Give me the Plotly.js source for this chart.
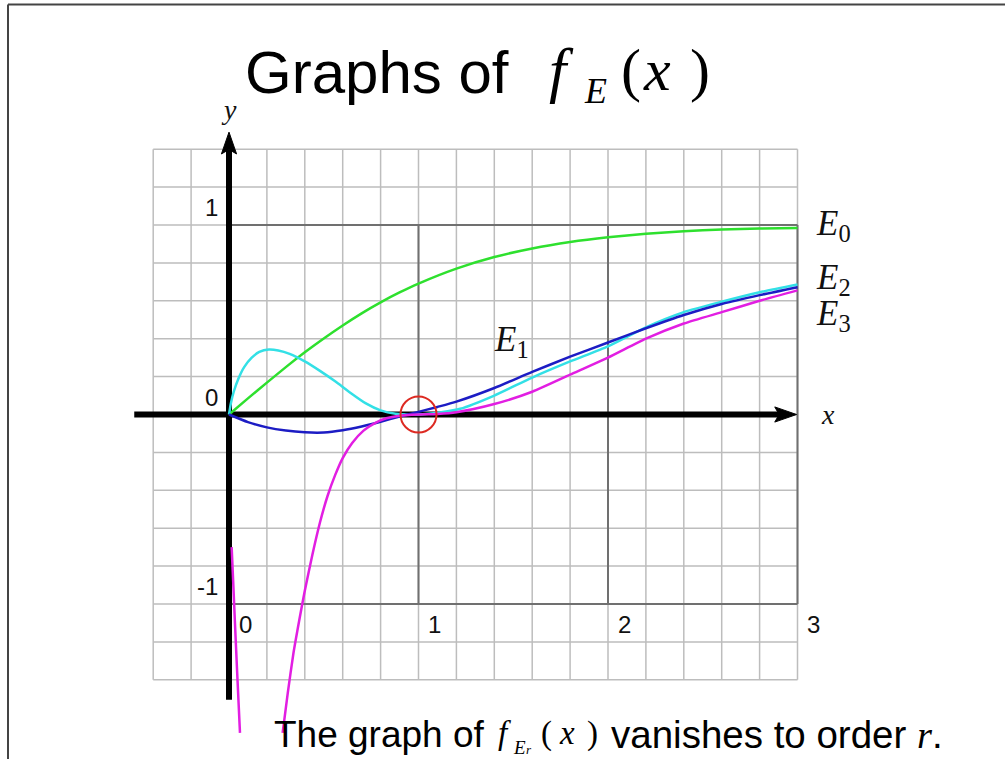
<!DOCTYPE html>
<html>
<head>
<meta charset="utf-8">
<script src="https://cdn.plot.ly/plotly-3.0.1.min.js"></script>
<style>
  html, body { margin: 0; padding: 0; background: #ffffff; }
  #chart { width: 1005px; height: 759px; }
</style>
</head>
<body>
<div id="chart"></div>
<script>
// ---- curve samples ----
const xE0 = [0, 0.1, 0.2, 0.3, 0.4, 0.5, 0.6, 0.7, 0.8, 0.9, 1.0, 1.2, 1.4, 1.6, 1.8, 2.0, 2.2, 2.4, 2.6, 2.8, 3.0];
const yE0 = [0, 0.085, 0.168, 0.250, 0.328, 0.401, 0.470, 0.534, 0.592, 0.644, 0.691, 0.770, 0.831, 0.876, 0.910, 0.935, 0.954, 0.967, 0.976, 0.981, 0.984];

const xE1 = [0, 0.1, 0.2, 0.3, 0.4, 0.5, 0.6, 0.7, 0.8, 0.9, 1.0, 1.1, 1.2, 1.4, 1.6, 1.8, 2.0, 2.2, 2.4, 2.6, 2.8, 3.0];
const yE1 = [0, -0.040, -0.068, -0.085, -0.094, -0.095, -0.083, -0.063, -0.038, -0.011, 0.014, 0.040, 0.068, 0.140, 0.225, 0.305, 0.380, 0.455, 0.525, 0.583, 0.630, 0.672];

const xE2 = [0, 0.01, 0.025, 0.05, 0.08, 0.12, 0.16, 0.21, 0.26, 0.32, 0.4, 0.48, 0.56, 0.64, 0.72, 0.8, 0.88, 0.96, 1.04, 1.12, 1.22, 1.4, 1.6, 1.8, 2.0, 2.2, 2.4, 2.6, 2.8, 3.0];
const yE2 = [0, 0.060, 0.120, 0.190, 0.250, 0.300, 0.330, 0.343, 0.338, 0.320, 0.280, 0.230, 0.175, 0.115, 0.060, 0.022, 0.004, 0.000, 0.003, 0.012, 0.030, 0.100, 0.195, 0.280, 0.360, 0.460, 0.540, 0.595, 0.645, 0.686];

// E3 has a pole at the origin: a thin left branch and the main branch
const xE3a = [0.014, 0.022, 0.031, 0.043, 0.058];
const yE3a = [-0.70, -0.88, -1.09, -1.36, -1.68];
const xE3 = [0.283, 0.31, 0.34, 0.37, 0.40, 0.44, 0.48, 0.52, 0.56, 0.60, 0.65, 0.71, 0.77, 0.83, 0.9, 1.0, 1.1, 1.2, 1.4, 1.6, 1.8, 2.0, 2.2, 2.4, 2.6, 2.8, 3.0];
const yE3 = [-1.68, -1.47, -1.26, -1.09, -0.93, -0.74, -0.57, -0.43, -0.32, -0.23, -0.15, -0.085, -0.045, -0.020, -0.006, 0.000, 0.003, 0.012, 0.055, 0.120, 0.210, 0.300, 0.400, 0.480, 0.540, 0.600, 0.655];

// ---- tick labels ----
const yTickVals = [1, 0, -1];
const yTickText = ['1', '0', '-1'];
const xTickVals = [0, 1, 2, 3];
const xTickText = ['0', '1', '2', '3'];

// ---- curve names ----
const curveNames = ['E0', 'E1', 'E2', 'E3'];
const curveColors = ['#2ee02e', '#1c1cc4', '#33e0e6', '#e21ee2'];

// ---- grid extents ----
const gridX = [-0.4, 3.0];
const gridY = [-1.4, 1.4];
const boxX = [0, 3];
const boxY = [-1, 1];
const step = 0.2;

const shapes = [];
const minorColor = '#bdbdbd';
const majorColor = '#707070';

// minor grid
for (let i = 0; ; i++) {
  const v = +(gridX[0] + i * step).toFixed(4);
  if (v > gridX[1] + 1e-9) break;
  shapes.push({type: 'line', layer: 'below', xref: 'x', yref: 'y', x0: v, x1: v, y0: gridY[0], y1: gridY[1], line: {color: minorColor, width: 1.5}});
}
for (let i = 0; ; i++) {
  const v = +(gridY[0] + i * step).toFixed(4);
  if (v > gridY[1] + 1e-9) break;
  shapes.push({type: 'line', layer: 'below', xref: 'x', yref: 'y', x0: gridX[0], x1: gridX[1], y0: v, y1: v, line: {color: minorColor, width: 1.5}});
}
// unit box lines
[boxY[0], boxY[1]].forEach(v => shapes.push({type: 'line', layer: 'below', xref: 'x', yref: 'y', x0: boxX[0], x1: boxX[1], y0: v, y1: v, line: {color: majorColor, width: 2}}));
[1, 2, 3].forEach(v => shapes.push({type: 'line', layer: 'below', xref: 'x', yref: 'y', x0: v, x1: v, y0: boxY[0], y1: boxY[1], line: {color: majorColor, width: 2}}));

// axes with arrowheads
const headLen = 0.115, headHalf = 0.04;
const xAxisTip = 2.995, yAxisTip = 1.49;
shapes.push({type: 'line', layer: 'below', xref: 'x', yref: 'y', x0: -0.5, x1: xAxisTip - headLen * 0.8, y0: 0, y1: 0, line: {color: '#000', width: 6}});
shapes.push({type: 'line', layer: 'below', xref: 'x', yref: 'y', x0: 0, x1: 0, y0: -1.505, y1: yAxisTip - headLen * 0.8, line: {color: '#000', width: 6}});
shapes.push({type: 'path', layer: 'below', xref: 'x', yref: 'y',
  path: `M ${xAxisTip},0 L ${xAxisTip - headLen},${headHalf} L ${xAxisTip - headLen * 0.8},0 L ${xAxisTip - headLen},${-headHalf} Z`,
  fillcolor: '#000', line: {color: '#000', width: 1}});
shapes.push({type: 'path', layer: 'below', xref: 'x', yref: 'y',
  path: `M 0,${yAxisTip} L ${headHalf},${yAxisTip - headLen} L 0,${yAxisTip - headLen * 0.8} L ${-headHalf},${yAxisTip - headLen} Z`,
  fillcolor: '#000', line: {color: '#000', width: 1}});

// red marker circle around (1, 0)
const rc = 0.095;
shapes.push({type: 'circle', layer: 'above', xref: 'x', yref: 'y', x0: 1 - rc, x1: 1 + rc, y0: -rc, y1: rc, line: {color: '#dd2a22', width: 2}});

// slide frame
shapes.push({type: 'line', xref: 'paper', yref: 'paper', x0: 8 / 1005, x1: 1, y0: 1 - 4.5 / 759, y1: 1 - 4.5 / 759, line: {color: '#444', width: 2}});
shapes.push({type: 'line', xref: 'paper', yref: 'paper', x0: 8 / 1005, x1: 8 / 1005, y0: 0, y1: 1 - 4.5 / 759, line: {color: '#444', width: 2}});

// ---- traces ----
const lw = 2.5;
const mk = (x, y, name, color) => ({type: 'scatter', mode: 'lines', x: x, y: y, name: name,
  hoverinfo: 'skip', showlegend: false, line: {color: color, width: lw, shape: 'spline', smoothing: 0.6}});
const traces = [
  mk(xE0, yE0, curveNames[0], curveColors[0]),
  mk(xE2, yE2, curveNames[2], curveColors[2]),
  mk(xE1, yE1, curveNames[1], curveColors[1]),
  mk(xE3, yE3, curveNames[3], curveColors[3]),
  mk(xE3a, yE3a, curveNames[3], curveColors[3])
];

// ---- annotations ----
const sans = 'Liberation Sans, Arial, sans-serif';
const serif = 'Liberation Serif, Times New Roman, serif';
const ann = [];
const px = v => v / 1005, py = v => 1 - v / 759;
const txt = (x, y, text, family, size, xa, ya) => ann.push({xref: 'paper', yref: 'paper', x: px(x), y: py(y),
  xanchor: xa || 'left', yanchor: ya || 'middle', showarrow: false, text: text, font: {family: family, size: size, color: '#000'}});

yTickVals.forEach((v, i) => ann.push({xref: 'x', yref: 'y', x: -0.05, y: v + 0.09, xanchor: 'right', yanchor: 'middle',
  text: yTickText[i], showarrow: false, font: {family: sans, size: 24, color: '#111'}}));
xTickVals.forEach((v, i) => ann.push({xref: 'x', yref: 'y', x: v + 0.085, y: -1.11, xanchor: 'center', yanchor: 'middle',
  text: xTickText[i], showarrow: false, font: {family: sans, size: 24, color: '#111'}}));

// axis names
ann.push({xref: 'x', yref: 'y', x: 0, y: 1.61, text: '<i>y</i>', showarrow: false, font: {family: serif, size: 28, color: '#111'}});
ann.push({xref: 'x', yref: 'y', x: 3.16, y: 0.0, text: '<i>x</i>', showarrow: false, font: {family: serif, size: 28, color: '#111'}});

// curve labels
const labelSpec = [
  {n: 0, x: 3.085, y: 1.0},
  {n: 2, x: 3.085, y: 0.715},
  {n: 3, x: 3.085, y: 0.525},
  {n: 1, x: 1.39, y: 0.385}
];
labelSpec.forEach(s => ann.push({xref: 'x', yref: 'y', x: s.x, y: s.y, xanchor: 'left', yanchor: 'middle', showarrow: false,
  text: '<i>E</i><sub>' + curveNames[s.n].slice(1) + '</sub>', font: {family: serif, size: 35, color: '#111'}}));

// title
txt(243, 72, 'Graphs of', sans, 60);
txt(547, 70, '<i>f</i>', serif, 62);
txt(582, 91, '<i>E</i>', serif, 36);
txt(619, 70, '(', serif, 60);
txt(641, 70, '<i>x</i>', serif, 60);
txt(688, 70, ')', serif, 60);

// footnote
txt(272, 734, 'The graph of', sans, 37);
txt(496, 733, '<i>f</i>', serif, 33);
txt(511, 747, '<i>E</i>', serif, 19);
txt(524, 759, '<i>r</i>', serif, 13, 'left', 'bottom');
txt(539, 733, '(', serif, 33);
txt(557, 733, '<i>x</i>', serif, 33);
txt(585, 733, ')', serif, 33);
txt(609, 734, 'vanishes to order <span style="font-family:Liberation Serif"><i>r</i></span>.', sans, 38.5);

const layout = {
  width: 1005, height: 759,
  margin: {l: 0, r: 0, t: 0, b: 0},
  paper_bgcolor: '#ffffff', plot_bgcolor: 'rgba(0,0,0,0)',
  xaxis: {range: [-229 / 189.5, (1005 - 229) / 189.5], visible: false, fixedrange: true},
  yaxis: {range: [(414.5 - 759) / 189.5, 414.5 / 189.5], visible: false, fixedrange: true},
  shapes: shapes,
  annotations: ann,
  showlegend: false
};

Plotly.newPlot('chart', traces, layout, {displayModeBar: false, staticPlot: true});
</script>
</body>
</html>
